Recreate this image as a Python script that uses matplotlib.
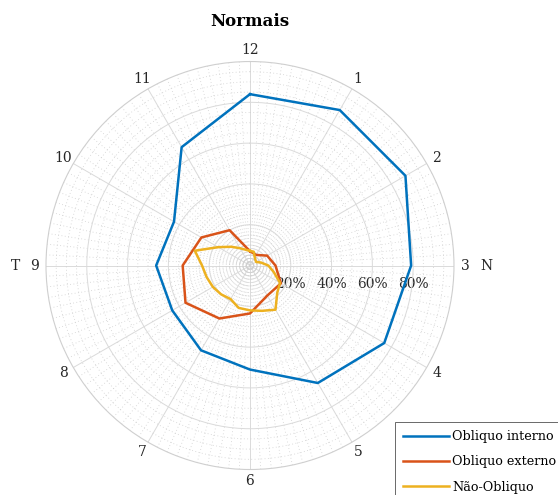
import numpy as np
import matplotlib.pyplot as plt

# clock positions, 12 at the top, going clockwise
hour_labels = ['12', '1', '2', '3', '4', '5', '6', '7', '8', '9', '10', '11']
hour_angles = np.arange(0, 360, 30)

# Obliquo interno / externo (%), one value per clock hour
obl_interno = [84, 88, 88, 79, 76, 66.5, 51, 48, 44, 46, 43, 67]
obl_externo = [7, 6, 9.7, 12.5, 17.5, 17, 23.5, 30, 36.5, 33, 27.5, 20]

# Nao-Obliquo (%), read every 15 degrees
nao_angles = np.arange(0, 360, 15)
nao_obliquo = [7.2, 7, 4.7, 3.8, 3.5, 5.6, 9, 12, 17, 18.9, 25, 23,
               22, 21.5, 19, 20, 21, 22, 23.5, 28, 18, 13, 9.8, 8]

r_ticks = [20, 40, 60, 80]
r_labels = ['20%', '40%', '60%', '80%']

series_names = ['Obliquo interno', 'Obliquo externo', 'Não-Obliquo']
colors = ['#0072BD', '#D95319', '#EDB120']

plt.rcParams['font.family'] = 'DejaVu Serif'

fig = plt.figure(figsize=(5.58, 4.95), dpi=100)
ax = fig.add_axes([0.0824, 0.0515, 0.7312, 0.8242], projection='polar')
ax.set_theta_zero_location('N')
ax.set_theta_direction(-1)
ax.set_ylim(0, 100)


def closed(angles, vals):
    th = np.deg2rad(np.append(angles, angles[0]))
    return th, np.append(vals, vals[0])


th, r = closed(hour_angles, obl_interno)
ax.plot(th, r, color=colors[0], lw=1.8, label=series_names[0], zorder=5)
th, r = closed(hour_angles, obl_externo)
ax.plot(th, r, color=colors[1], lw=1.8, label=series_names[1], zorder=5)
th, r = closed(nao_angles, nao_obliquo)
ax.plot(th, r, color=colors[2], lw=1.8, label=series_names[2], zorder=5)

# grid
ax.set_xticks(np.deg2rad(hour_angles))
ax.set_xticklabels(hour_labels, fontsize=10, color='#262626')
ax.set_xticks(np.deg2rad(np.arange(0, 360, 3)), minor=True)
ax.set_yticks(r_ticks)
ax.set_yticklabels([])
ax.set_yticks(np.arange(0, 100, 5), minor=True)
ax.tick_params(axis='x', which='major', pad=1.5, length=0)
ax.tick_params(axis='both', which='minor', length=0)
ax.grid(which='major', color='#dadada', lw=0.7, ls='-')
ax.grid(which='minor', color='#d0d0d0', lw=0.6, ls=(0, (1, 3)))
ax.spines['polar'].set_color('#cfcfcf')
ax.spines['polar'].set_linewidth(0.8)

for rv, lab in zip(r_ticks, r_labels):
    ax.annotate(lab, xy=(np.pi / 2, rv), xytext=(0, -13),
                textcoords='offset points', ha='center', va='center',
                fontsize=10, color='#262626', zorder=1)

ax.text(np.pi / 2, 116, 'N', ha='center', va='center', fontsize=10,
        color='#262626', clip_on=False)
ax.text(3 * np.pi / 2, 115, 'T', ha='center', va='center', fontsize=10,
        color='#262626', clip_on=False)

fig.text(0.448, 1 - 22 / 495, 'Normais', ha='center', va='center',
         fontsize=12, fontweight='bold')

leg = fig.legend(loc='upper left', bbox_to_anchor=(395 / 558, 1 - 422 / 495),
                 borderaxespad=0, fontsize=9.2, handlelength=3.6,
                 frameon=True, fancybox=False, borderpad=0.65,
                 labelspacing=0.95, handletextpad=0.25)
leg.get_frame().set_edgecolor('#262626')
leg.get_frame().set_linewidth(0.6)

fig.savefig('out.png', dpi=100)
